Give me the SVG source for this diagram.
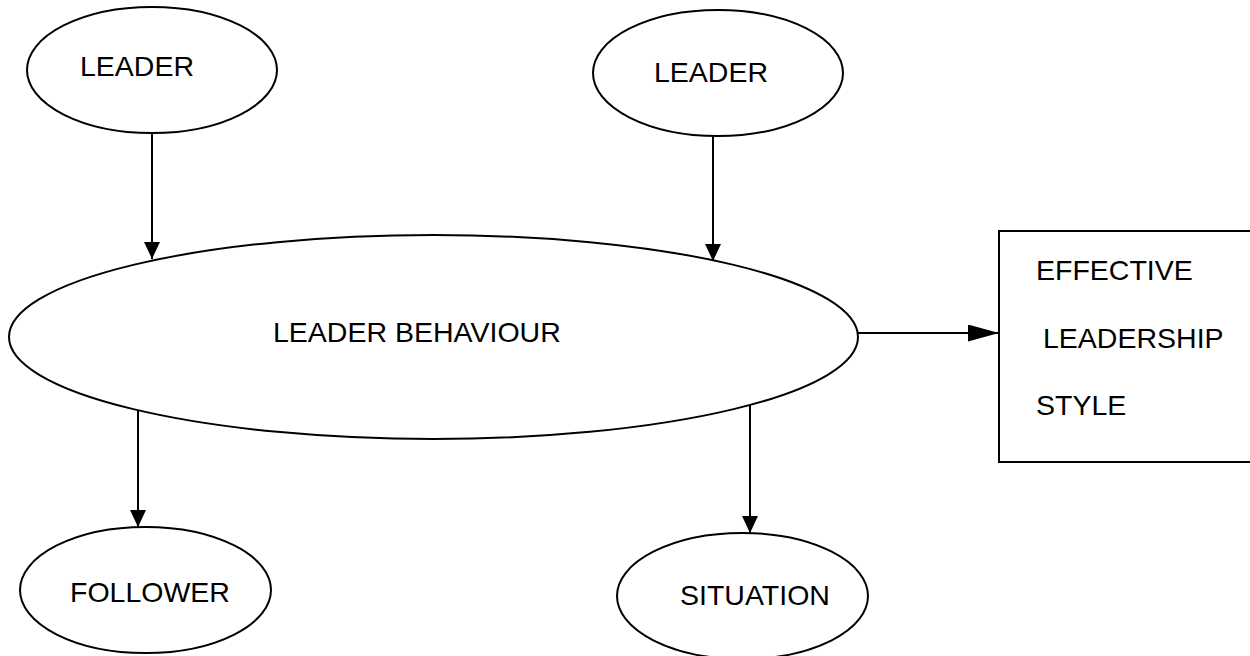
<svg xmlns="http://www.w3.org/2000/svg" width="1250" height="656" viewBox="0 0 1250 656">
<defs>
<style>
.n{fill:#fff;stroke:#000;stroke-width:2}
.t{font-family:"Liberation Sans",Arial,sans-serif;font-size:28.5px;fill:#000}
.c{stroke:#000;stroke-width:2;fill:none}
</style>
<marker id="ah" markerUnits="userSpaceOnUse" markerWidth="17" markerHeight="17" refX="17" refY="8" orient="auto"><path d="M0,0 L17,8 L0,16 Z" fill="#000"/></marker>
<marker id="ahl" markerUnits="userSpaceOnUse" markerWidth="31" markerHeight="17" refX="31" refY="8.5" orient="auto"><path d="M0,0 L31,8.5 L0,17 Z" fill="#000"/></marker>
</defs>
<rect width="1250" height="656" fill="#fff"/>
<g id="leader1"><ellipse class="n" cx="152" cy="70" rx="125" ry="63"/><text class="t" x="80" y="76">LEADER</text></g>
<g id="leader2"><ellipse class="n" cx="718" cy="73" rx="125" ry="63"/><text class="t" x="654" y="82">LEADER</text></g>
<g id="behaviour"><ellipse class="n" cx="433.5" cy="337" rx="424.5" ry="102"/><text class="t" x="273" y="342">LEADER BEHAVIOUR</text></g>
<g id="effective"><rect class="n" x="999" y="231" width="262" height="231"/><text class="t" x="1036" y="280">EFFECTIVE</text><text class="t" x="1043" y="348">LEADERSHIP</text><text class="t" x="1036" y="415">STYLE</text></g>
<g id="follower"><ellipse class="n" cx="145.5" cy="590" rx="125.5" ry="63"/><text class="t" x="70" y="602">FOLLOWER</text></g>
<g id="situation"><ellipse class="n" cx="742.5" cy="596" rx="125.5" ry="63"/><text class="t" x="680" y="605">SITUATION</text></g>
<g id="connectors">
<line class="c" x1="152" y1="133" x2="152" y2="259" marker-end="url(#ah)"/>
<line class="c" x1="713" y1="136" x2="713" y2="261" marker-end="url(#ah)"/>
<line class="c" x1="138" y1="410" x2="138" y2="527" marker-end="url(#ah)"/>
<line class="c" x1="750" y1="405" x2="750" y2="533" marker-end="url(#ah)"/>
<line class="c" x1="858" y1="333" x2="999" y2="333" marker-end="url(#ahl)"/>
</g>
</svg>
